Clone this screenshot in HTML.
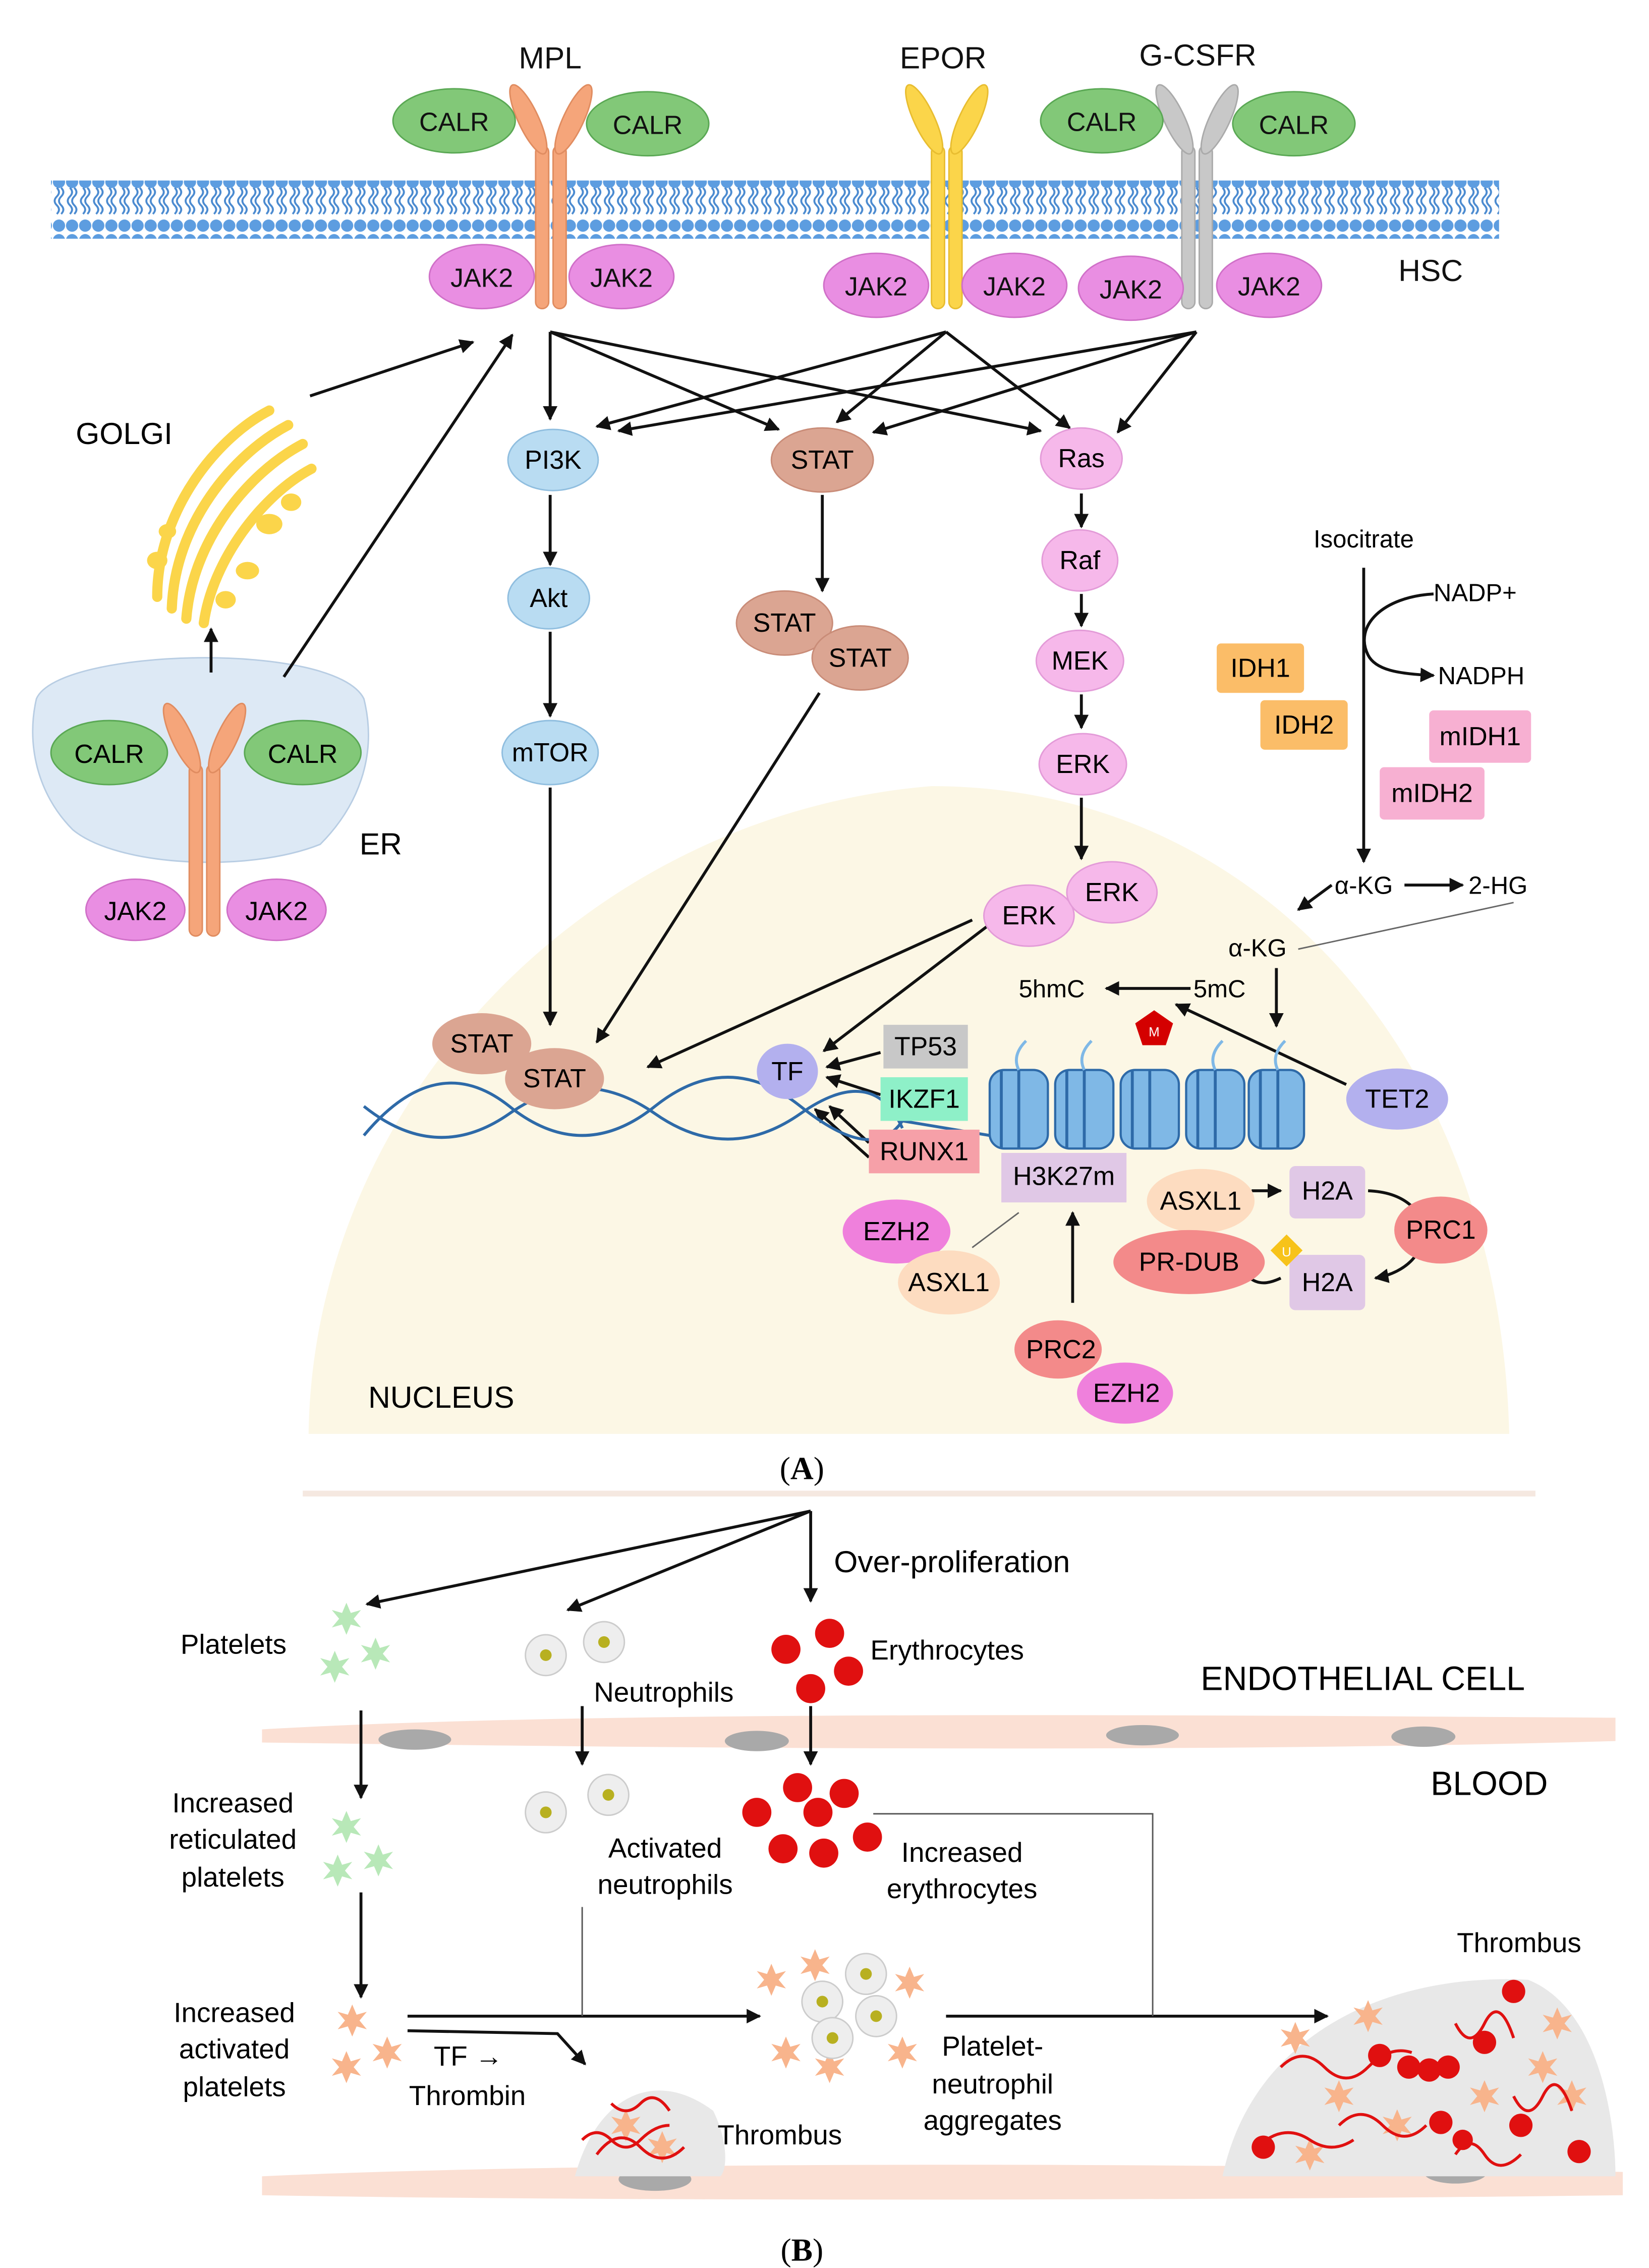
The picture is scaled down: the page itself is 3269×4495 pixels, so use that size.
<!DOCTYPE html>
<html><head><meta charset="utf-8"><style>html,body{margin:0;padding:0;background:#fff}svg{display:block}</style></head>
<body>
<svg width="3269" height="4495" viewBox="0 0 1133 1558" xmlns="http://www.w3.org/2000/svg" font-family="Liberation Sans, sans-serif">
<defs>
<marker id="a" viewBox="0 0 10 10" refX="9" refY="5" markerWidth="5" markerHeight="5" orient="auto"><path d="M0,0L10,5L0,10z" fill="#111"/></marker>
<pattern id="lip" width="9" height="40" patternUnits="userSpaceOnUse">
<circle cx="4.5" cy="5" r="4.2" fill="#5d9de0"/><circle cx="4.5" cy="35" r="4.2" fill="#5d9de0"/>
<path d="M3,9 q3,3 0,6 q-3,3 0,6 q3,3 0,6 M6,9 q3,3 0,6 q-3,3 0,6 q3,3 0,6" stroke="#4a8ad0" stroke-width="1.3" fill="none"/>
</pattern>
<g id="plt"><path d="M0,-11 L3,-4 L10,-6 L5,0 L10,6 L3,4 L0,11 L-3,4 L-10,6 L-5,0 L-10,-6 L-3,-4Z"/></g>
</defs>
<rect width="1133" height="1558" fill="#fff"/>
<path d="M212,985 C215,760 400,560 640,540 C860,540 1030,720 1037,985 Z" fill="#fcf7e5"/>
<rect x="35" y="124" width="995" height="40" fill="url(#lip)"/>
<g fill="#f5a57a" stroke="#e08c60" stroke-width="1">
<rect x="368" y="100" width="9" height="112" rx="4.5"/><rect x="380" y="100" width="9" height="112" rx="4.5"/>
<ellipse cx="363" cy="82" rx="7" ry="26" transform="rotate(-25 363 82)"/><ellipse cx="394" cy="82" rx="7" ry="26" transform="rotate(25 394 82)"/>
</g>
<g fill="#fbd54a" stroke="#e8bd30" stroke-width="1">
<rect x="640" y="100" width="9" height="112" rx="4.5"/><rect x="652" y="100" width="9" height="112" rx="4.5"/>
<ellipse cx="635" cy="82" rx="7" ry="26" transform="rotate(-25 635 82)"/><ellipse cx="666" cy="82" rx="7" ry="26" transform="rotate(25 666 82)"/>
</g>
<g fill="#c8c8c8" stroke="#aaa" stroke-width="1">
<rect x="812" y="100" width="9" height="112" rx="4.5"/><rect x="824" y="100" width="9" height="112" rx="4.5"/>
<ellipse cx="807" cy="82" rx="7" ry="26" transform="rotate(-25 807 82)"/><ellipse cx="838" cy="82" rx="7" ry="26" transform="rotate(25 838 82)"/>
</g>
<g font-size="21" text-anchor="middle" fill="#111">
<text x="378" y="47">MPL</text><text x="648" y="47">EPOR</text><text x="823" y="45">G-CSFR</text><text x="983" y="193">HSC</text>
</g>
<g fill="#82c878" stroke="#5aa854"><ellipse cx="312" cy="83" rx="42" ry="22"/><ellipse cx="445" cy="85" rx="42" ry="22"/><ellipse cx="757" cy="83" rx="42" ry="22"/><ellipse cx="889" cy="85" rx="42" ry="22"/></g>
<g fill="#e98ee2" stroke="#d070c8"><ellipse cx="331" cy="190" rx="36" ry="22"/><ellipse cx="427" cy="190" rx="36" ry="22"/><ellipse cx="602" cy="196" rx="36" ry="22"/><ellipse cx="697" cy="196" rx="36" ry="22"/><ellipse cx="777" cy="198" rx="36" ry="22"/><ellipse cx="872" cy="196" rx="36" ry="22"/></g>
<g font-size="18" text-anchor="middle" fill="#111">
<text x="312" y="90">CALR</text><text x="445" y="92">CALR</text><text x="757" y="90">CALR</text><text x="889" y="92">CALR</text>
<text x="331" y="197">JAK2</text><text x="427" y="197">JAK2</text><text x="602" y="203">JAK2</text><text x="697" y="203">JAK2</text><text x="777" y="205">JAK2</text><text x="872" y="203">JAK2</text>
</g>
<text x="52" y="305" font-size="21">GOLGI</text>
<g fill="none" stroke="#fbd54a" stroke-width="7" stroke-linecap="round">
<path d="M108,410 C108,350 150,300 185,282"/>
<path d="M118,418 C120,360 160,312 198,292"/>
<path d="M128,425 C132,372 170,325 208,305"/>
<path d="M140,428 C146,385 180,340 214,322"/>
</g>
<g fill="#fbd54a"><ellipse cx="185" cy="360" rx="9" ry="7"/><ellipse cx="200" cy="345" rx="7" ry="6"/><ellipse cx="170" cy="392" rx="8" ry="6"/><ellipse cx="155" cy="412" rx="7" ry="6"/><ellipse cx="108" cy="385" rx="7" ry="6"/><ellipse cx="115" cy="365" rx="6" ry="5"/></g>
<path d="M25,480 C40,445 230,440 250,480 C260,520 245,555 220,580 C170,600 80,595 50,570 C25,545 18,510 25,480Z" fill="#dde9f5" stroke="#b8cde3"/>
<g fill="#f5a57a" stroke="#e08c60">
<rect x="130" y="525" width="9" height="118" rx="4.5"/><rect x="142" y="525" width="9" height="118" rx="4.5"/>
<ellipse cx="125" cy="507" rx="7" ry="26" transform="rotate(-25 125 507)"/><ellipse cx="156" cy="507" rx="7" ry="26" transform="rotate(25 156 507)"/>
</g>
<g fill="#82c878" stroke="#5aa854"><ellipse cx="75" cy="517" rx="40" ry="22"/><ellipse cx="208" cy="517" rx="40" ry="22"/></g>
<g fill="#e98ee2" stroke="#d070c8"><ellipse cx="93" cy="625" rx="34" ry="21"/><ellipse cx="190" cy="625" rx="34" ry="21"/></g>
<g font-size="18" text-anchor="middle"><text x="75" y="524">CALR</text><text x="208" y="524">CALR</text><text x="93" y="632">JAK2</text><text x="190" y="632">JAK2</text></g>
<text x="247" y="587" font-size="21">ER</text>
<g stroke="#111" stroke-width="2" fill="none" marker-end="url(#a)">
<line x1="213" y1="272" x2="325" y2="235"/><line x1="195" y1="465" x2="352" y2="230"/><line x1="145" y1="462" x2="145" y2="432"/>
<line x1="378" y1="228" x2="378" y2="288"/><line x1="378" y1="228" x2="535" y2="295"/><line x1="378" y1="228" x2="715" y2="296"/>
<line x1="650" y1="228" x2="410" y2="293"/><line x1="650" y1="228" x2="575" y2="290"/><line x1="650" y1="228" x2="735" y2="294"/>
<line x1="822" y1="228" x2="425" y2="296"/><line x1="822" y1="228" x2="600" y2="297"/><line x1="822" y1="228" x2="768" y2="297"/>
<line x1="378" y1="340" x2="378" y2="388"/><line x1="378" y1="434" x2="378" y2="492"/><line x1="378" y1="541" x2="378" y2="704"/>
<line x1="565" y1="340" x2="565" y2="406"/><line x1="563" y1="476" x2="410" y2="716"/>
<line x1="743" y1="339" x2="743" y2="362"/><line x1="743" y1="408" x2="743" y2="430"/><line x1="743" y1="477" x2="743" y2="500"/><line x1="743" y1="548" x2="743" y2="590"/>
<line x1="668" y1="632" x2="445" y2="733"/><line x1="680" y1="635" x2="566" y2="722"/>
<line x1="605" y1="723" x2="568" y2="733"/><line x1="605" y1="752" x2="568" y2="740"/><line x1="597" y1="785" x2="570" y2="760"/><line x1="597" y1="795" x2="560" y2="762"/>
</g>
<g stroke-width="1">
<ellipse cx="380" cy="316" rx="31" ry="21" fill="#b9dcf2" stroke="#90bedf"/>
<ellipse cx="377" cy="411" rx="28" ry="21" fill="#b9dcf2" stroke="#90bedf"/>
<ellipse cx="378" cy="517" rx="33" ry="22" fill="#b9dcf2" stroke="#90bedf"/>
<ellipse cx="565" cy="316" rx="35" ry="22" fill="#dba592" stroke="#c98c78"/>
<ellipse cx="539" cy="428" rx="33" ry="22" fill="#dba592" stroke="#c98c78"/>
<ellipse cx="591" cy="452" rx="33" ry="22" fill="#dba592" stroke="#c98c78"/>
<ellipse cx="743" cy="315" rx="28" ry="21" fill="#f6b8ea" stroke="#e39bd8"/>
<ellipse cx="742" cy="385" rx="26" ry="21" fill="#f6b8ea" stroke="#e39bd8"/>
<ellipse cx="742" cy="454" rx="30" ry="21" fill="#f6b8ea" stroke="#e39bd8"/>
<ellipse cx="744" cy="525" rx="30" ry="21" fill="#f6b8ea" stroke="#e39bd8"/>
<ellipse cx="707" cy="629" rx="31" ry="21" fill="#f6b8ea" stroke="#e39bd8"/>
<ellipse cx="764" cy="613" rx="31" ry="21" fill="#f6b8ea" stroke="#e39bd8"/>
</g>
<g font-size="18" text-anchor="middle">
<text x="380" y="322">PI3K</text><text x="377" y="417">Akt</text><text x="378" y="523">mTOR</text><text x="565" y="322">STAT</text><text x="539" y="434">STAT</text><text x="591" y="458">STAT</text>
<text x="743" y="321">Ras</text><text x="742" y="391">Raf</text><text x="742" y="460">MEK</text><text x="744" y="531">ERK</text><text x="707" y="635">ERK</text><text x="764" y="619">ERK</text>
</g>
<text x="937" y="376" font-size="17" text-anchor="middle">Isocitrate</text>
<g stroke="#111" stroke-width="2" fill="none">
<line x1="937" y1="390" x2="937" y2="592" marker-end="url(#a)"/>
<path d="M985,408 C950,410 930,430 940,450 C945,460 960,463 985,464" marker-end="url(#a)"/>
<line x1="965" y1="608" x2="1005" y2="608" marker-end="url(#a)"/>
<line x1="915" y1="608" x2="892" y2="625" marker-end="url(#a)"/>
<line x1="877" y1="665" x2="877" y2="705" marker-end="url(#a)"/>
<line x1="818" y1="679" x2="760" y2="679" marker-end="url(#a)"/>
<line x1="925" y1="745" x2="808" y2="690" marker-end="url(#a)"/>
<line x1="737" y1="895" x2="737" y2="833" marker-end="url(#a)"/>
<line x1="860" y1="818" x2="880" y2="818" marker-end="url(#a)"/>
<path d="M940,818 C990,820 990,870 945,878" marker-end="url(#a)"/>
<path d="M880,878 C865,885 860,880 850,870"/>
</g>
<line x1="1040" y1="620" x2="892" y2="652" stroke="#666" stroke-width="1"/>
<line x1="700" y1="833" x2="668" y2="857" stroke="#666" stroke-width="1"/>
<g font-size="17"><text x="917" y="614">α-KG</text><text x="985" y="413">NADP+</text><text x="988" y="470">NADPH</text><text x="1009" y="614">2-HG</text><text x="844" y="657">α-KG</text><text x="820" y="685">5mC</text><text x="700" y="685">5hmC</text></g>
<g stroke-width="1">
<rect x="836" y="442" width="60" height="34" rx="3" fill="#fbbd68"/><rect x="866" y="481" width="60" height="34" rx="3" fill="#fbbd68"/>
<rect x="982" y="488" width="70" height="36" rx="3" fill="#f7b0d2"/><rect x="948" y="527" width="72" height="36" rx="3" fill="#f7b0d2"/>
</g>
<g font-size="18" text-anchor="middle"><text x="866" y="465">IDH1</text><text x="896" y="504">IDH2</text><text x="1017" y="512">mIDH1</text><text x="984" y="551">mIDH2</text></g>
<g stroke="#2e6aa8" stroke-width="2" fill="none">
<path d="M250,780 Q300,720 350,760 T450,760 T550,760 T620,770 L680,780"/>
<path d="M250,760 Q300,800 350,765 T450,765 T550,765 T620,775"/>
</g>
<g fill="#7fb8e6" stroke="#2e6aa8" stroke-width="1.5">
<rect x="680" y="735" width="40" height="54" rx="10"/><rect x="725" y="735" width="40" height="54" rx="10"/><rect x="770" y="735" width="40" height="54" rx="10"/><rect x="815" y="735" width="40" height="54" rx="10"/><rect x="858" y="735" width="38" height="54" rx="10"/>
</g>
<g stroke="#2e6aa8" stroke-width="2" fill="none">
<path d="M688,735v54M700,735v54M733,735v54M745,735v54M778,735v54M790,735v54M823,735v54M835,735v54M866,735v54M878,735v54"/>
<path d="M700,735 q-5,-10 5,-20 M745,735 q-5,-10 5,-20 M835,735 q-5,-10 5,-20 M878,735 q-5,-10 5,-20" stroke="#7fb8e6"/>
</g>
<path d="M793,694 L806,703 L801,718 L785,718 L780,703Z" fill="#d40000"/><text x="793" y="712" font-size="9" fill="#fff" text-anchor="middle">M</text>
<g stroke-width="1">
<ellipse cx="331" cy="717" rx="34" ry="21" fill="#dba592"/><ellipse cx="381" cy="741" rx="34" ry="21" fill="#dba592"/>
<ellipse cx="541" cy="736" rx="21" ry="19" fill="#b3b0ee"/>
<rect x="607" y="704" width="58" height="30" fill="#c8c8c8"/><rect x="605" y="740" width="60" height="30" fill="#8ef0c8"/><rect x="597" y="776" width="76" height="30" fill="#f6a0a8"/>
<rect x="688" y="792" width="86" height="34" fill="#e0c8e6"/>
<ellipse cx="616" cy="846" rx="37" ry="22" fill="#ef80dc"/><ellipse cx="652" cy="881" rx="35" ry="22" fill="#fddcc0"/>
<ellipse cx="727" cy="927" rx="30" ry="20" fill="#f38a8a"/><ellipse cx="773" cy="957" rx="33" ry="21" fill="#ef80dc"/>
<ellipse cx="825" cy="825" rx="37" ry="22" fill="#fddcc0"/><rect x="886" y="801" width="52" height="36" rx="4" fill="#e0c8e6"/>
<ellipse cx="990" cy="845" rx="32" ry="23" fill="#f38a8a"/><ellipse cx="817" cy="867" rx="52" ry="22" fill="#f38a8a"/>
<rect x="886" y="862" width="52" height="38" rx="4" fill="#e0c8e6"/>
<path d="M884,848 L895,859 L884,870 L873,859Z" fill="#f7c31a"/>
<ellipse cx="960" cy="755" rx="35" ry="21" fill="#b3b0ee"/>
</g>
<g font-size="18" text-anchor="middle">
<text x="331" y="723">STAT</text><text x="381" y="747">STAT</text><text x="541" y="742">TF</text>
<text x="636" y="725">TP53</text><text x="635" y="761">IKZF1</text><text x="635" y="797">RUNX1</text><text x="731" y="814">H3K27m</text>
<text x="616" y="852">EZH2</text><text x="652" y="887">ASXL1</text><text x="729" y="933">PRC2</text><text x="774" y="963">EZH2</text>
<text x="825" y="831">ASXL1</text><text x="912" y="824">H2A</text><text x="990" y="851">PRC1</text><text x="817" y="873">PR-DUB</text><text x="912" y="887">H2A</text><text x="960" y="761">TET2</text>
</g>
<text x="884" y="863" font-size="9" fill="#fff" text-anchor="middle">U</text>
<text x="253" y="967" font-size="21">NUCLEUS</text>
<text x="551" y="1016" font-size="22" font-family="Liberation Serif, serif" text-anchor="middle">(<tspan font-weight="bold">A</tspan>)</text>
<line x1="208" y1="1026" x2="1055" y2="1026" stroke="#f5e8e0" stroke-width="4"/>
<path d="M180,1188 C400,1175 800,1178 1110,1180 L1110,1196 C800,1205 400,1200 180,1197Z" fill="#fbe0d4"/>
<g fill="#a9a9a9"><ellipse cx="285" cy="1195" rx="25" ry="7"/><ellipse cx="520" cy="1196" rx="22" ry="7"/><ellipse cx="785" cy="1192" rx="25" ry="7"/><ellipse cx="978" cy="1193" rx="22" ry="7"/></g>
<path d="M180,1495 C400,1485 800,1485 1115,1492 L1115,1508 C800,1512 400,1512 180,1508Z" fill="#fbe0d4"/>
<g fill="#a9a9a9"><ellipse cx="450" cy="1497" rx="25" ry="8"/><ellipse cx="1000" cy="1492" rx="22" ry="8"/></g>
<path d="M395,1495 C410,1440 450,1420 490,1450 C500,1470 500,1490 495,1495Z" fill="#e8e8e8"/>
<path d="M840,1495 C860,1400 950,1355 1050,1360 C1100,1380 1110,1460 1110,1495Z" fill="#e8e8e8"/>
<g fill="#f8b48c">
<use href="#plt" x="890" y="1400"/><use href="#plt" x="920" y="1440"/><use href="#plt" x="960" y="1460"/><use href="#plt" x="1060" y="1420"/><use href="#plt" x="1080" y="1440"/><use href="#plt" x="900" y="1480"/><use href="#plt" x="1020" y="1440"/><use href="#plt" x="1070" y="1390"/><use href="#plt" x="940" y="1385"/>
<use href="#plt" x="430" y="1460"/><use href="#plt" x="455" y="1475"/>
<use href="#plt" x="242" y="1388"/><use href="#plt" x="266" y="1410"/><use href="#plt" x="238" y="1420"/>
<use href="#plt" x="530" y="1360"/><use href="#plt" x="560" y="1350"/><use href="#plt" x="625" y="1362"/><use href="#plt" x="620" y="1410"/><use href="#plt" x="540" y="1410"/><use href="#plt" x="570" y="1420"/>
</g>
<g stroke="#e01010" stroke-width="2" fill="none">
<path d="M400,1470 q10,-10 20,0 t20,0 t20,-10 M420,1445 q10,10 20,0 t20,5 M410,1480 q15,-20 30,-5 t30,0"/>
<path d="M880,1420 q15,-15 30,0 t30,0 t30,-10 M920,1460 q15,-15 30,0 t30,0 M1000,1390 q10,20 20,0 t20,10 M1040,1440 q10,20 20,0 t20,10 M870,1470 q15,-10 30,0 t30,0 M1000,1480 q10,-15 20,0 t25,0"/>
</g>
<g fill="#e01010">
<circle cx="948" cy="1412" r="8"/><circle cx="968" cy="1420" r="8"/><circle cx="982" cy="1422" r="8"/><circle cx="995" cy="1420" r="8"/><circle cx="1020" cy="1403" r="8"/><circle cx="1040" cy="1368" r="8"/><circle cx="868" cy="1475" r="8"/><circle cx="990" cy="1458" r="8"/><circle cx="1045" cy="1460" r="8"/><circle cx="1085" cy="1478" r="8"/><circle cx="1005" cy="1470" r="7"/>
</g>
<g fill="#eee" stroke="#ccc"><circle cx="565" cy="1375" r="14"/><circle cx="595" cy="1356" r="14"/><circle cx="602" cy="1385" r="14"/><circle cx="572" cy="1400" r="14"/>
<circle cx="375" cy="1137" r="14"/><circle cx="415" cy="1128" r="14"/><circle cx="375" cy="1245" r="14"/><circle cx="418" cy="1233" r="14"/></g>
<g fill="#b8b020"><circle cx="565" cy="1375" r="4"/><circle cx="595" cy="1356" r="4"/><circle cx="602" cy="1385" r="4"/><circle cx="572" cy="1400" r="4"/><circle cx="375" cy="1137" r="4"/><circle cx="415" cy="1128" r="4"/><circle cx="375" cy="1245" r="4"/><circle cx="418" cy="1233" r="4"/></g>
<g fill="#b8e8b8"><use href="#plt" x="238" y="1112"/><use href="#plt" x="258" y="1136"/><use href="#plt" x="230" y="1145"/><use href="#plt" x="238" y="1255"/><use href="#plt" x="260" y="1278"/><use href="#plt" x="232" y="1285"/></g>
<g fill="#e01010"><circle cx="540" cy="1133" r="10"/><circle cx="570" cy="1122" r="10"/><circle cx="583" cy="1148" r="10"/><circle cx="557" cy="1160" r="10"/>
<circle cx="520" cy="1245" r="10"/><circle cx="548" cy="1228" r="10"/><circle cx="562" cy="1245" r="10"/><circle cx="580" cy="1232" r="10"/><circle cx="538" cy="1270" r="10"/><circle cx="566" cy="1273" r="10"/><circle cx="596" cy="1262" r="10"/></g>
<g stroke="#111" stroke-width="2" fill="none">
<line x1="557" y1="1038" x2="252" y2="1102" marker-end="url(#a)"/><line x1="557" y1="1038" x2="390" y2="1106" marker-end="url(#a)"/><line x1="557" y1="1038" x2="557" y2="1100" marker-end="url(#a)"/>
<line x1="248" y1="1175" x2="248" y2="1235" marker-end="url(#a)"/><line x1="248" y1="1300" x2="248" y2="1372" marker-end="url(#a)"/>
<line x1="400" y1="1172" x2="400" y2="1212" marker-end="url(#a)"/><line x1="557" y1="1172" x2="557" y2="1212" marker-end="url(#a)"/>
<line x1="280" y1="1385" x2="522" y2="1385" marker-end="url(#a)"/><line x1="650" y1="1385" x2="912" y2="1385" marker-end="url(#a)"/>
<path d="M280,1395 L383,1397 L402,1418" marker-end="url(#a)"/>
</g>
<g stroke="#555" stroke-width="1" fill="none"><line x1="400" y1="1310" x2="400" y2="1385"/><path d="M600,1246 L792,1246 L792,1385"/></g>
<g font-size="19">
<text x="573" y="1080" font-size="21">Over-proliferation</text>
<text x="124" y="1136">Platelets</text><text x="408" y="1169">Neutrophils</text><text x="598" y="1140">Erythrocytes</text>
<text x="825" y="1161" font-size="23">ENDOTHELIAL CELL</text><text x="983" y="1233" font-size="23">BLOOD</text>
<text x="160" y="1245" text-anchor="middle">Increased</text><text x="160" y="1270" text-anchor="middle">reticulated</text><text x="160" y="1296" text-anchor="middle">platelets</text>
<text x="457" y="1276" text-anchor="middle">Activated</text><text x="457" y="1301" text-anchor="middle">neutrophils</text>
<text x="661" y="1279" text-anchor="middle">Increased</text><text x="661" y="1304" text-anchor="middle">erythrocytes</text>
<text x="161" y="1389" text-anchor="middle">Increased</text><text x="161" y="1414" text-anchor="middle">activated</text><text x="161" y="1440" text-anchor="middle">platelets</text>
<text x="298" y="1419">TF  →</text><text x="281" y="1446">Thrombin</text><text x="493" y="1473">Thrombus</text>
<text x="682" y="1412" text-anchor="middle">Platelet-</text><text x="682" y="1438" text-anchor="middle">neutrophil</text><text x="682" y="1463" text-anchor="middle">aggregates</text>
<text x="1001" y="1341">Thrombus</text>
</g>
<text x="551" y="1553" font-size="22" font-family="Liberation Serif, serif" text-anchor="middle">(<tspan font-weight="bold">B</tspan>)</text>
</svg>
</body></html>
